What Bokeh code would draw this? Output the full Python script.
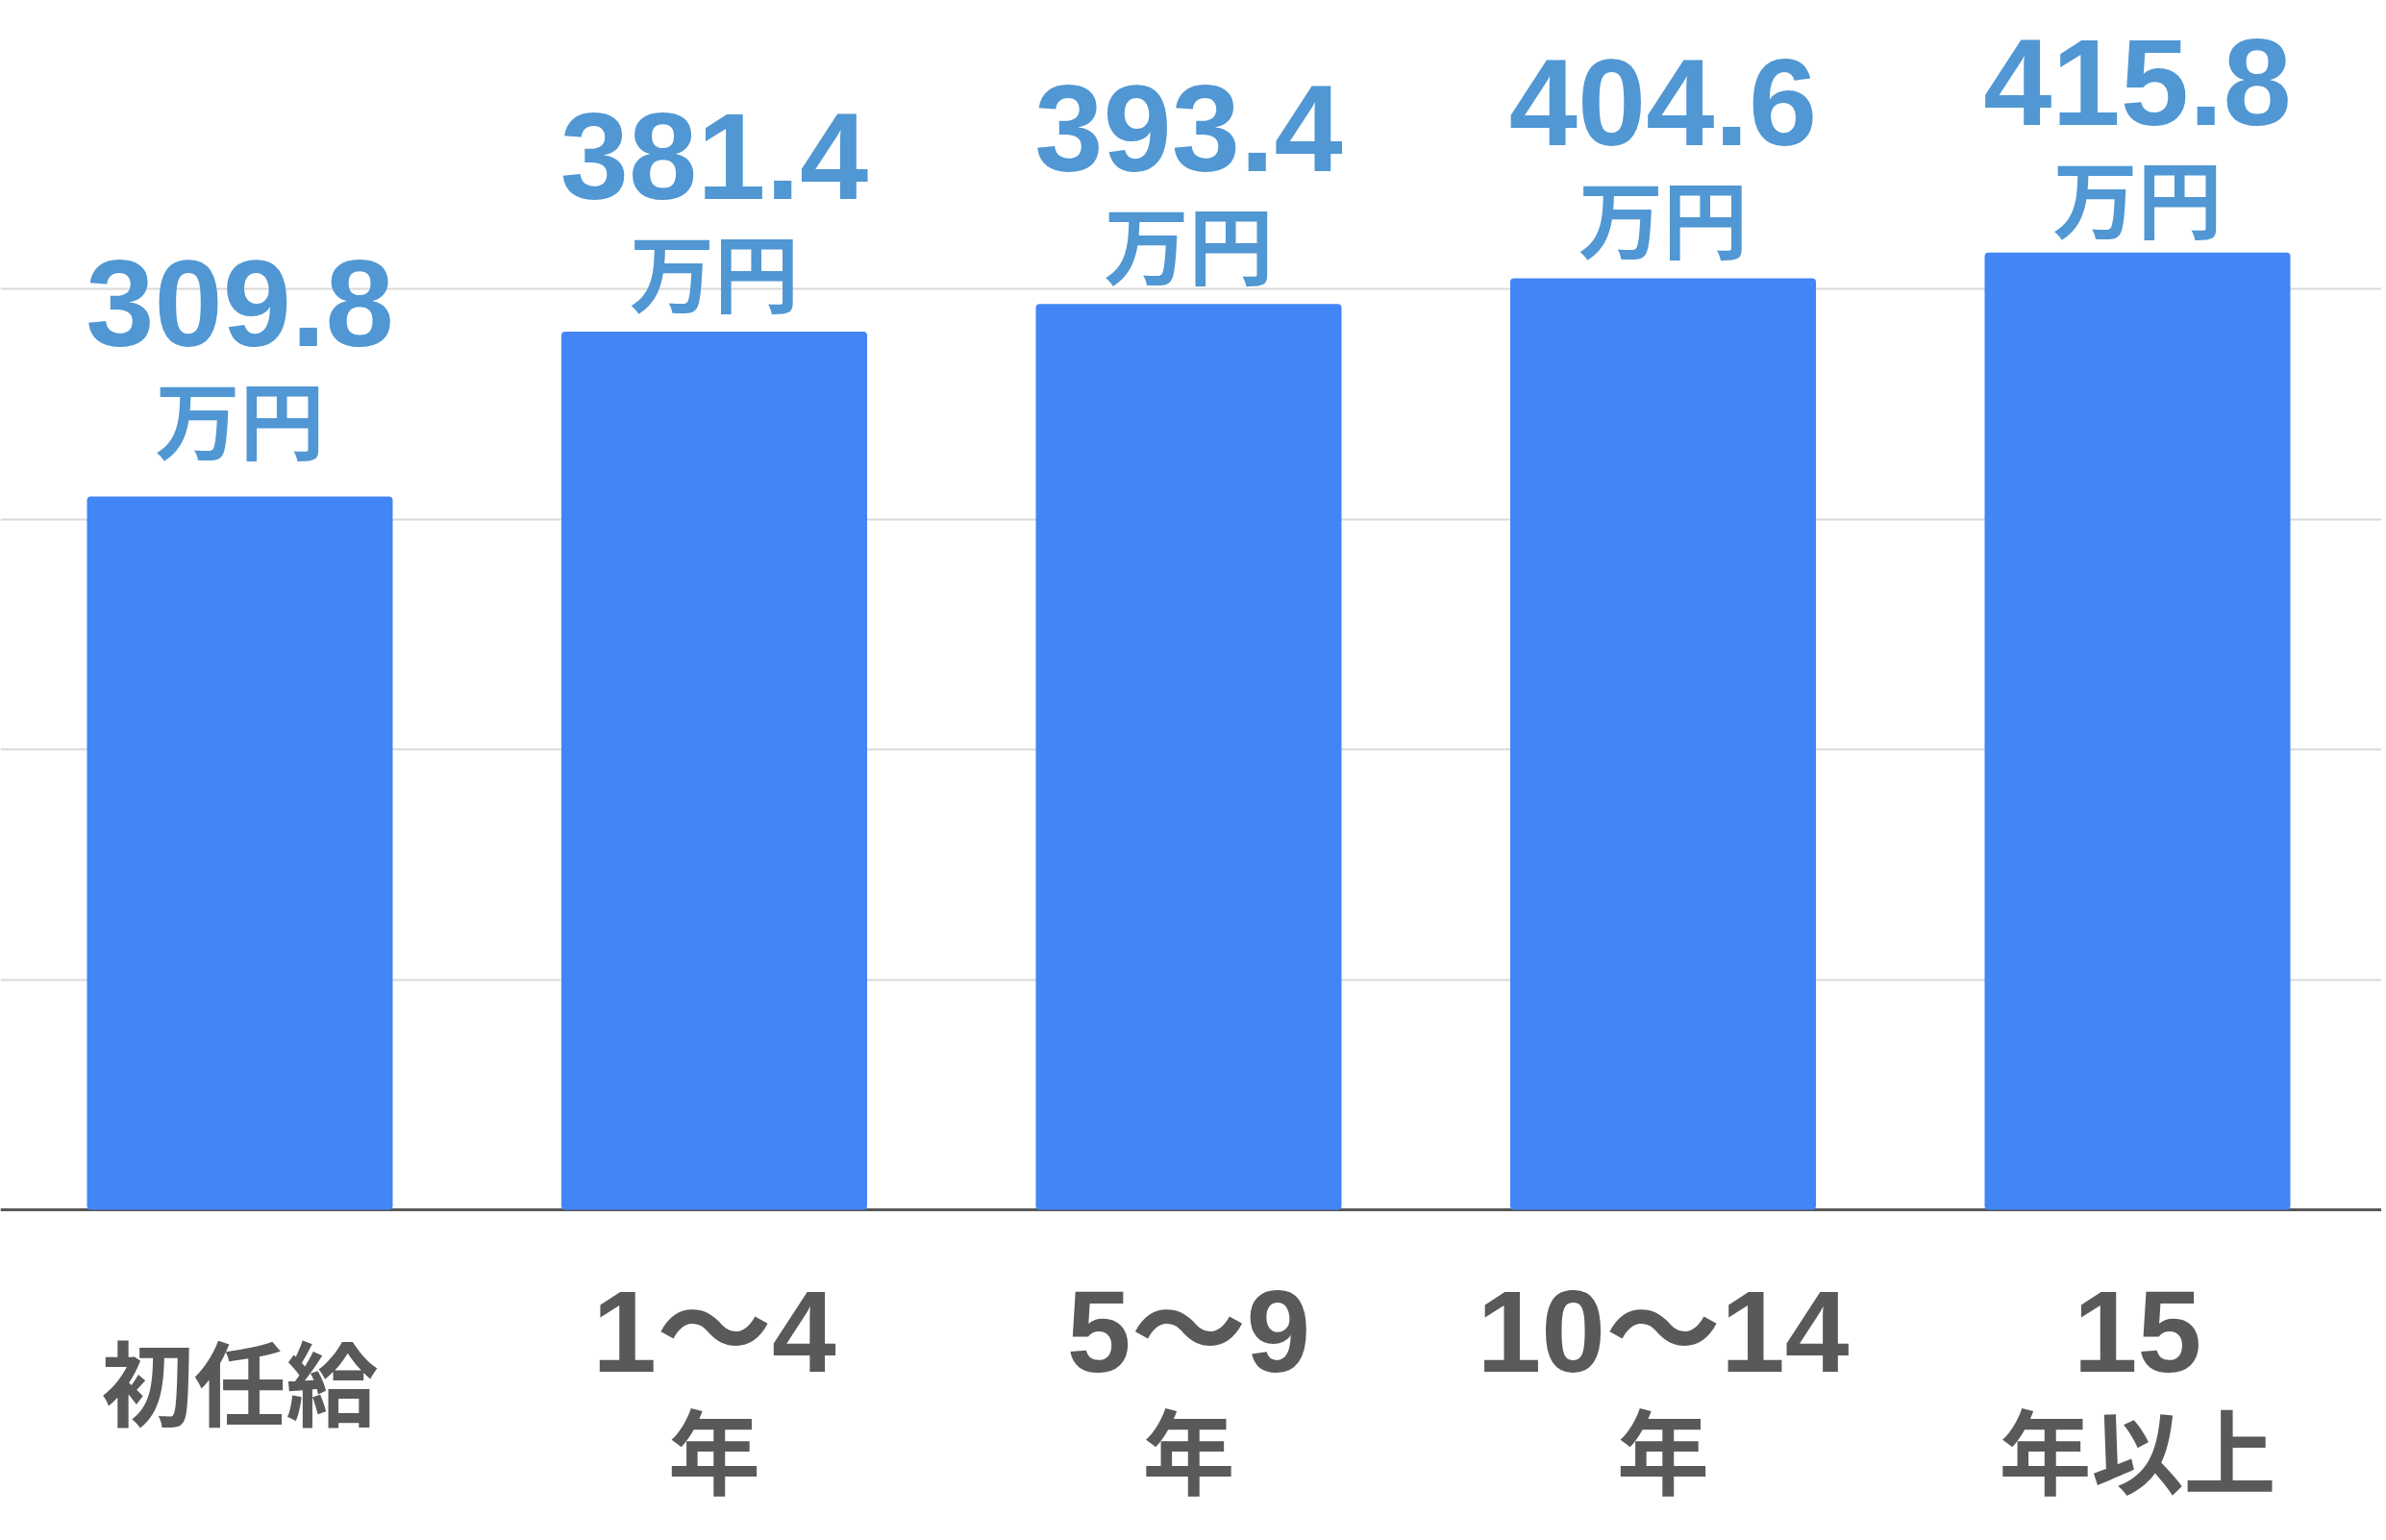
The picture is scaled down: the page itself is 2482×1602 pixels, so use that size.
from bokeh.plotting import figure
from bokeh.models import ColumnDataSource, FixedTicker, Span
from bokeh.core.properties import value
from bokeh.embed import file_html
from bokeh.resources import INLINE

# ---- data ----
categories = ["初任給", "1〜4年", "5〜9年", "10〜14年", "15年以上"]
period_num = ["", "1〜4", "5〜9", "10〜14", "15"]
period_unit = ["初任給", "年", "年", "年", "年以上"]
salary = [309.8, 381.4, 393.4, 404.6, 415.8]
unit_label = "万円"
grid_ticks = [100, 200, 300, 400]

# ---- style / layout ----
W, H = 2477, 1600
PX_X = 493.5          # px per category
PX_Y = 2.395          # px per 万円
X0 = -249 / PX_X
Y_TOP = 1258 / PX_Y
BAR_BLUE = "#4285F4"
LABEL_BLUE = "#5097D3"
GRAY = "#595959"
NUM_FONT = value("'Liberation Sans', 'Noto Sans CJK JP'")
CJK_FONT = value("'Noto Sans CJK JP'")
label_shift_px = [18, 0, 0, 0, -6]   # small nudges of the value labels

xs = list(range(len(categories)))

p = figure(width=W, height=H, output_backend="svg", toolbar_location=None,
           x_range=(X0, X0 + W / PX_X), y_range=(Y_TOP - H / PX_Y, Y_TOP),
           x_axis_location=None, y_axis_location=None, min_border=0)
p.outline_line_color = None
p.background_fill_color = "white"
p.border_fill_color = "white"
p.xgrid.visible = False
p.ygrid.ticker = FixedTicker(ticks=grid_ticks)
p.ygrid.grid_line_color = "#d9d9d9"
p.ygrid.grid_line_width = 2

base = Span(location=0, dimension="width", line_color=GRAY, line_width=3, level="underlay")
p.add_layout(base)

src = ColumnDataSource(dict(
    x=xs, top=salary,
    num=[f"{v:.1f}" for v in salary],
    unit=[unit_label] * len(salary),
    num_y=[v + (183 + s) / PX_Y for v, s in zip(salary, label_shift_px)],
    unit_y=[v + (66 + s) / PX_Y for v, s in zip(salary, label_shift_px)],
))

p.vbar(x="x", top="top", bottom=0, width=318 / PX_X, source=src,
       fill_color=BAR_BLUE, line_color=None, border_radius=4)

p.text(x="x", y="num_y", text="num", source=src, text_align="center",
       text_baseline="alphabetic", text_font=NUM_FONT, text_font_style="bold",
       text_font_size="128px", text_color=LABEL_BLUE)
p.text(x="x", y="unit_y", text="unit", source=src, text_align="center",
       text_baseline="alphabetic", text_font=CJK_FONT, text_font_style="bold",
       text_font_size="88px", text_color=LABEL_BLUE)

# category labels below the baseline
cat_src = ColumnDataSource(dict(
    x=xs,
    num=period_num,
    unit=period_unit,
    num_y=[-126 / PX_Y] * len(xs),
    unit_y=[(-176 if n == "" else -247) / PX_Y for n in period_num],
))
p.text(x="x", y="num_y", text="num", source=cat_src, text_align="center",
       text_baseline="alphabetic", text_font=NUM_FONT, text_font_style="bold",
       text_font_size="120px", text_color=GRAY)
p.text(x="x", y="unit_y", text="unit", source=cat_src, text_align="center",
       text_baseline="alphabetic", text_font=CJK_FONT, text_font_style="bold",
       text_font_size="96px", text_color=GRAY)

open("out.html", "w").write(file_html(p, INLINE))
